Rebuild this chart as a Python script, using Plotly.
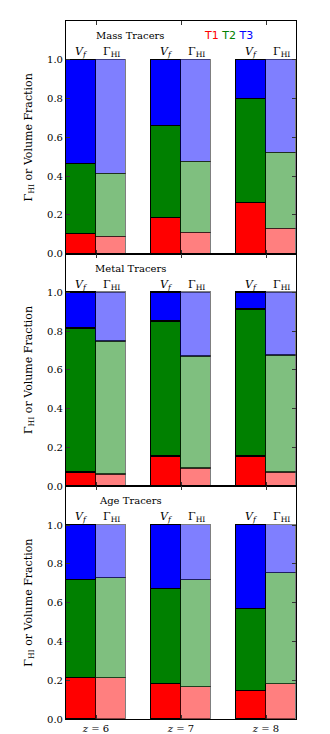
import plotly.graph_objects as go
from plotly.subplots import make_subplots

# ---- data ----
redshifts = ["6", "7", "8"]
panel_titles = ["Mass Tracers", "Metal Tracers", "Age Tracers"]
tracers = ["T1", "T2", "T3"]

# segment sizes, per panel, per tracer, per redshift (z=6,7,8)
mass_vf = {"T1": [0.103, 0.182, 0.262], "T2": [0.357, 0.478, 0.536], "T3": [0.540, 0.340, 0.202]}
mass_gam = {"T1": [0.086, 0.106, 0.129], "T2": [0.324, 0.366, 0.391], "T3": [0.590, 0.528, 0.480]}
metal_vf = {"T1": [0.069, 0.154, 0.154], "T2": [0.742, 0.697, 0.755], "T3": [0.189, 0.149, 0.091]}
metal_gam = {"T1": [0.058, 0.089, 0.069], "T2": [0.686, 0.580, 0.603], "T3": [0.256, 0.331, 0.328]}
age_vf = {"T1": [0.208, 0.181, 0.142], "T2": [0.509, 0.486, 0.426], "T3": [0.283, 0.333, 0.432]}
age_gam = {"T1": [0.208, 0.164, 0.181], "T2": [0.519, 0.549, 0.572], "T3": [0.273, 0.287, 0.247]}

panels = [(mass_vf, mass_gam), (metal_vf, metal_gam), (age_vf, age_gam)]

y_ticks = [0.0, 0.2, 0.4, 0.6, 0.8, 1.0]

solid = {"T1": "rgb(255,0,0)", "T2": "rgb(0,128,0)", "T3": "rgb(0,0,255)"}
light = {"T1": "rgba(255,0,0,0.5)", "T2": "rgba(0,128,0,0.5)", "T3": "rgba(0,0,255,0.5)"}

bw = 0.353
centers = [0, 1, 2]
x_vf = [c - bw / 2 for c in centers]
x_g = [c + bw / 2 for c in centers]

SERIF = "DejaVu Serif, serif"

fig = make_subplots(rows=3, cols=1, shared_xaxes=True, vertical_spacing=0)

for r, (vf, gam) in enumerate(panels, start=1):
    for t in tracers:
        fig.add_trace(go.Bar(x=x_vf, y=vf[t], width=bw, marker=dict(color=solid[t], line=dict(color="black", width=1.3)),
                             showlegend=False, hoverinfo="skip"), row=r, col=1)
        fig.add_trace(go.Bar(x=x_g, y=gam[t], width=bw, marker=dict(color=light[t], line=dict(color="rgba(0,0,0,0.5)", width=1.3)),
                             showlegend=False, hoverinfo="skip"), row=r, col=1)

annotations = []
for r in range(1, 4):
    xr = "x" if r == 1 else f"x{r}"
    yr = "y" if r == 1 else f"y{r}"
    for i in range(3):
        annotations.append(dict(x=x_vf[i], y=1.04, xref=xr, yref=yr, text="<i>V<sub>f</sub></i>", showarrow=False,
                                font=dict(family=SERIF, size=11, color="black"), xanchor="center", yanchor="middle"))
        annotations.append(dict(x=x_g[i], y=1.04, xref=xr, yref=yr, text="Γ<sub>HI</sub>", showarrow=False,
                                font=dict(family=SERIF, size=11, color="black"), xanchor="center", yanchor="middle"))
    annotations.append(dict(x=0.40, y=1.125, xref=xr, yref=yr, text=panel_titles[r - 1], showarrow=False,
                            font=dict(family=SERIF, size=10, color="black"), xanchor="center", yanchor="middle"))
annotations.append(dict(x=1.556, y=1.125, xref="x", yref="y",
                        text='<span style="color:red">T1</span> <span style="color:green">T2</span> <span style="color:blue">T3</span>',
                        showarrow=False, font=dict(family="DejaVu Sans", size=11), xanchor="center", yanchor="middle"))

fig.update_layout(
    width=330, height=734, barmode="stack", bargap=0,
    margin=dict(l=66, r=34, t=21, b=15, autoexpand=False),
    plot_bgcolor="white", paper_bgcolor="white",
    annotations=annotations,
    font=dict(family=SERIF, size=10, color="black"),
)

for r in range(1, 4):
    fig.update_yaxes(range=[0, 1.2], tickvals=y_ticks, tickformat=".1f", ticks="inside", ticklen=4, tickcolor="#333",
                     showline=True, linecolor="black", linewidth=1.1, mirror="ticks", showgrid=False, zeroline=False,
                     tickfont=dict(family=SERIF, size=10), automargin=False,
                     title=dict(text="Γ<sub>HI</sub> or Volume Fraction", font=dict(family=SERIF, size=11), standoff=12),
                     row=r, col=1)
    fig.update_xaxes(range=[-0.353, 2.353], tickvals=centers, ticktext=[f"<i>z</i> = {z}" for z in redshifts],
                     showticklabels=(r == 3), ticks="inside", ticklen=4, tickcolor="#333", automargin=False,
                     showline=True, linecolor="black", linewidth=1.1, mirror="ticks", showgrid=False, zeroline=False,
                     tickfont=dict(family=SERIF, size=10), row=r, col=1)

fig.write_html("out.html", config={"displayModeBar": False},
               post_script="document.body.style.margin='0';document.body.style.overflow='hidden';")
